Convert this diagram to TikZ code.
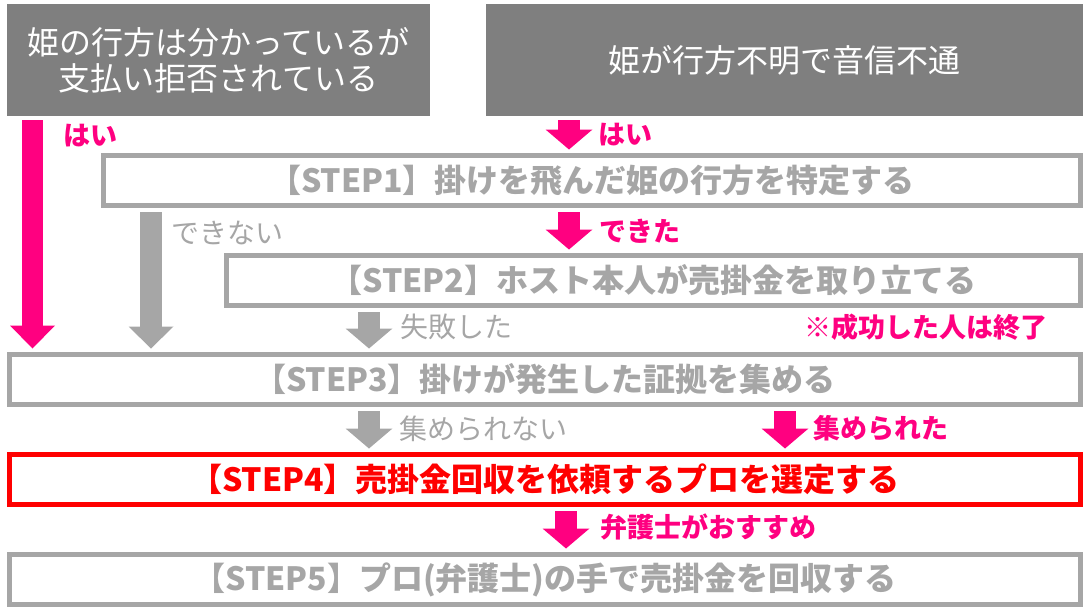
\documentclass[tikz,border=0pt]{standalone}
\usepackage{fontspec}
\setmainfont{Noto Sans CJK JP}
\usetikzlibrary{arrows.meta}
\definecolor{boxgray}{HTML}{7F7F7F}
\definecolor{lgray}{HTML}{A6A6A6}
\definecolor{hpink}{HTML}{FF0080}
\definecolor{hred}{HTML}{FF0000}
\tikzset{
  topbox/.style={fill=boxgray, draw=none, inner sep=0pt, minimum height=112pt, text=white, align=center, font=\fontsize{32}{36}\selectfont},
  stepbox/.style={draw=lgray, line width=5pt, inner sep=0pt, minimum height=50pt, text=lgray, font=\fontsize{32}{36}\selectfont\bfseries},
  redbox/.style={stepbox, draw=hred, text=hred},
  pinklbl/.style={anchor=west, inner sep=0pt, text=hpink, font=\fontsize{27}{30}\selectfont\bfseries},
  graylbl/.style={anchor=west, inner sep=0pt, text=lgray, font=\fontsize{28}{30}\selectfont},
  blockarrow/.style={line width=22pt, shorten <=4pt, shorten >=3.5pt, -{Triangle[width=47pt,length=20pt,line width=0pt]}},
  pinkarrow/.style={blockarrow, draw=hpink, fill=hpink},
  grayarrow/.style={blockarrow, draw=lgray, fill=lgray},
  bigpink/.style={pinkarrow, line width=21pt, -{Triangle[width=45pt,length=23pt,line width=0pt]}},
  biggray/.style={grayarrow, -{Triangle[width=45pt,length=22pt,line width=0pt]}}
}
\begin{document}
\begin{tikzpicture}[x=1pt,y=-1pt]
\useasboundingbox (0,0) rectangle (1089,610);
% top boxes
\node[topbox, minimum width=423pt] (tl) at (218.5,60) {姫の行方は分かっているが\\支払い拒否されている};
\node[topbox, minimum width=597pt] (tr) at (784.5,60) {姫が行方不明で音信不通};
% steps
\node[stepbox, minimum width=977pt] (s1) at (592,180.5) {【STEP1】掛けを飛んだ姫の行方を特定する};
\node[stepbox, minimum width=854pt] (s2) at (653.5,280.5) {【STEP2】ホスト本人が売掛金を取り立てる};
\node[stepbox, minimum width=1071pt] (s3) at (545,379.5) {【STEP3】掛けが発生した証拠を集める};
\node[redbox, minimum width=1071pt] (s4) at (545,479.5) {【STEP4】売掛金回収を依頼するプロを選定する};
\node[stepbox, minimum width=1071pt] (s5) at (545,579.5) {【STEP5】プロ(弁護士)の手で売掛金を回収する};
% x positions of connectors
\coordinate (xa) at (32.5,0);
\coordinate (xb) at (151,0);
\coordinate (xc) at (569,0);
\coordinate (xd) at (369,0);
\coordinate (xe) at (785,0);
\coordinate (xf) at (566,0);
% connectors
\draw[bigpink] (tl.south -| xa) -- (s3.north -| xa);
\draw[biggray] (s1.south -| xb) -- (s3.north -| xb);
\draw[pinkarrow] (tr.south -| xc) -- (s1.north -| xc);
\draw[pinkarrow] (s1.south -| xc) -- (s2.north -| xc);
\draw[grayarrow] (s2.south -| xd) -- (s3.north -| xd);
\draw[grayarrow] (s3.south -| xd) -- (s4.north -| xd);
\draw[pinkarrow] (s3.south -| xe) -- (s4.north -| xe);
\draw[pinkarrow] (s4.south -| xf) -- (s5.north -| xf);
% labels
\node[pinklbl] (l1) at (63,136) {はい};
\node[pinklbl] (l2) at (598,135) {はい};
\node[graylbl] (l3) at (171,233) {できない};
\node[pinklbl] (l4) at (599,231) {できた};
\node[graylbl] (l5) at (400,327) {失敗した};
\node[pinklbl] (l6) at (804,327) {※成功した人は終了};
\node[graylbl] (l7) at (399,429) {集められない};
\node[pinklbl] (l8) at (813,428) {集められた};
\node[pinklbl] (l9) at (600,527) {弁護士がおすすめ};
\end{tikzpicture}
\end{document}
